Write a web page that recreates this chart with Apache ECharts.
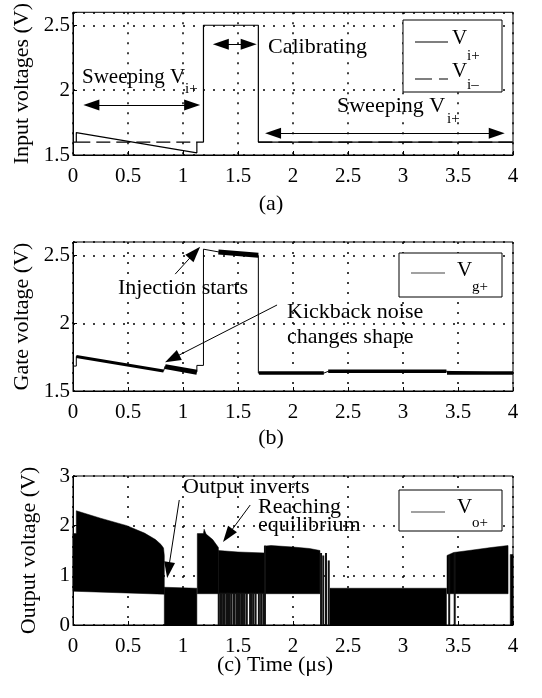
<!DOCTYPE html>
<html>
<head>
<meta charset="utf-8">
<title>Comparator waveforms</title>
<script src="https://cdn.jsdelivr.net/npm/echarts@6/dist/echarts.min.js"></script>
<style>
    html, body { margin: 0; padding: 0; background: #fff; }
    #chart { width: 542px; height: 698px; }
</style>
</head>
<body>
<div id="chart"></div>
<script>
// ---- data (time in us, voltages in V) ----
var timeTicks = [0, 0.5, 1, 1.5, 2, 2.5, 3, 3.5, 4];

// (a) input voltages
var viPlus = [[0, 1.6], [0.03, 1.6], [0.03, 1.673], [1.126, 1.517], [1.126, 1.6], [1.186, 1.6],
    [1.186, 2.5], [1.685, 2.5], [1.685, 1.6], [4, 1.6]];
var viMinus = [[0.03, 1.6], [1.126, 1.6], [1.4, '-'], [1.685, 1.6], [4, 1.6]];

// (b) gate voltage: thin trace + noisy (thick) stretches
var vgTrace = [[0, 1.684], [0.03, 1.684], [0.03, 1.755], [0.823, 1.647], [0.838, 1.684], [1.126, 1.640],
    [1.126, 1.689], [1.186, 1.689], [1.186, 2.547], [1.322, 2.527], [1.685, 2.50], [1.685, 1.632],
    [2.28, 1.632], [2.32, 1.645], [3.395, 1.645], [3.40, 1.632], [4, 1.632]];
var vgNoisy = [[0.03, 1.755], [0.823, 1.647]];
var vgWedge = [[0.838, 1.680], [1.126, 1.638]];
var vgTop = [[1.322, 2.527], [1.685, 2.503]];
var vgLow1 = [[1.69, 1.632], [2.28, 1.632]];
var vgLow2 = [[2.32, 1.645], [3.395, 1.645]];
var vgLow3 = [[3.40, 1.632], [4, 1.632]];

// (c) output voltage: envelopes of the fast oscillation [top, bottom]
var voBlocks = [
    [[[0, 1.84], [0.03, 1.84], [0.03, 2.30], [0.25, 2.15], [0.49, 2.0], [0.65, 1.85], [0.75, 1.72], [0.80, 1.62], [0.823, 1.55], [0.83, 1.40]],
        [[0, 0.68], [0.83, 0.62]]],
    [[[0.83, 0.76], [1.126, 0.74]], [[0.83, 0], [1.126, 0]]],
    [[[1.13, 1.84], [1.186, 1.84], [1.192, 1.93], [1.21, 1.83], [1.27, 1.72], [1.322, 1.56]],
        [[1.13, 0.63], [1.322, 0.63]]],
    [[[1.322, 1.50], [1.5, 1.47], [1.745, 1.45]], [[1.322, 0.63], [1.745, 0.63]]],
    [[[1.75, 1.59], [1.80, 1.60], [2.0, 1.57], [2.15, 1.54], [2.245, 1.50]], [[1.75, 0.63], [2.245, 0.63]]],
    [[[2.336, 0.74], [3.395, 0.74]], [[2.336, 0], [3.395, 0]]],
    [[[3.40, 1.40], [3.46, 1.46], [3.6, 1.50], [3.8, 1.56], [3.955, 1.60]], [[3.40, 0.63], [3.955, 0.63]]],
    [[[3.975, 1.42], [4, 1.42]], [[3.975, 0], [4, 0]]]
];
// isolated transitions [t, from, to]
var voSpikes = [[1.325, 0, 0.65], [1.34, 0, 0.65], [1.35, 0, 0.65], [1.365, 0, 0.65], [1.38, 0, 0.65],
    [1.40, 0, 0.65], [1.41, 0, 0.65], [1.425, 0, 0.65], [1.44, 0, 0.65], [1.46, 0, 0.65], [1.47, 0, 0.65],
    [1.49, 0, 0.65], [1.50, 0, 0.65], [1.515, 0, 0.65], [1.53, 0, 0.65], [1.545, 0, 0.65], [1.56, 0, 0.65],
    [1.58, 0, 0.65], [1.61, 0, 0.65], [1.625, 0, 0.65], [1.64, 0, 0.65], [1.66, 0, 0.65], [1.69, 0, 0.65],
    [1.71, 0, 0.65], [1.73, 0, 0.65],
    [1.745, 0, 1.6], [2.255, 0, 1.45], [2.275, 0, 1.40], [2.30, 0, 1.45], [2.325, 0, 1.30],
    [3.42, 0, 1.40], [3.47, 0, 1.45]];

// annotation arrows [x1, y1, x2, y2] (head centres)
var arrowsA = [[0.167, 1.886, 1.083, 1.886], [1.344, 2.354, 1.597, 2.354], [1.819, 1.668, 3.852, 1.668]];
var arrowsB = [[0.929, 2.363, 1.107, 2.522], [1.855, 2.135, 0.902, 1.739]];
var arrowsC = [[0.966, 2.517, 0.867, 1.105], [1.611, 2.416, 1.407, 1.802]];

var FONT = 'Liberation Serif';

var chart = echarts.init(document.getElementById('chart'));

function timeAxis(i) {
    return {
        type: 'value', gridIndex: i, min: timeTicks[0], max: timeTicks[timeTicks.length - 1], interval: 0.5,
        axisLine: {show: true, onZero: false, lineStyle: {color: '#000', width: 1}},
        axisTick: {show: true, inside: true, length: 4, lineStyle: {color: '#000'}},
        axisLabel: {color: '#000', fontFamily: FONT, fontSize: 21, margin: 11},
        splitLine: {show: true, lineStyle: {color: '#000', width: 1.5, type: [2, 8]}}
    };
}

function voltAxis(i, name, min, max, interval) {
    return {
        type: 'value', gridIndex: i, min: min, max: max, interval: interval,
        name: name, nameLocation: 'middle', nameGap: 33,
        nameTextStyle: {color: '#000', fontFamily: FONT, fontSize: 22},
        axisLine: {show: true, onZero: false, lineStyle: {color: '#000', width: 1}},
        axisTick: {show: true, inside: true, length: 4, lineStyle: {color: '#000'}},
        axisLabel: {
            color: '#000', fontFamily: FONT, fontSize: 21, margin: 3,
            formatter: function (v) {
                var k = v / interval;
                return Math.abs(k - Math.round(k)) < 1e-6 ? String(v) : '';
            }
        },
        splitLine: {show: true, lineStyle: {color: '#000', width: 1.5, type: [2, 8]}}
    };
}

function arrowLines(list, single) {
    return {
        silent: true,
        symbol: single ? ['none', 'triangle'] : ['triangle', 'triangle'],
        symbolSize: [11, 16],
        label: {show: false},
        emphasis: {disabled: true},
        itemStyle: {color: '#000'},
        lineStyle: {color: '#000', width: 1, type: 'solid'},
        data: list.map(function (a) {
            return [{coord: [a[0], a[1]]}, {coord: [a[2], a[3]]}];
        })
    };
}

function trace(i, data, width, extra) {
    var s = {
        type: 'line', xAxisIndex: i, yAxisIndex: i, data: data, symbol: 'none', silent: true,
        lineStyle: {color: '#000', width: width}
    };
    for (var k in extra) s[k] = extra[k];
    return s;
}

function text(str, x, y, size, align) {
    return {
        type: 'text', x: x, y: y, z: 100,
        style: {text: str, fill: '#000', fontFamily: FONT, fontSize: size, align: align || 'left', verticalAlign: 'middle'}
    };
}

function line(x1, y1, x2, y2, color, dash) {
    return {
        type: 'line', z: 100, shape: {x1: x1, y1: y1, x2: x2, y2: y2},
        style: {stroke: color, lineWidth: 1.2, lineDash: dash || null}
    };
}

function box(x, y, w, h) {
    return {type: 'rect', z: 99, shape: {x: x, y: y, width: w, height: h}, style: {fill: '#fff', stroke: '#000', lineWidth: 1}};
}

var option = {
    animation: false,
    backgroundColor: '#fff',
    grid: [
        {left: 73, right: 29, top: 7, height: 148, show: true, borderColor: '#000', borderWidth: 1, containLabel: false},
        {left: 73, right: 29, top: 242, height: 149, show: true, borderColor: '#000', borderWidth: 1, containLabel: false},
        {left: 73, right: 29, top: 476, height: 149, show: true, borderColor: '#000', borderWidth: 1, containLabel: false}
    ],
    xAxis: [timeAxis(0), timeAxis(1), timeAxis(2)],
    yAxis: [
        voltAxis(0, 'Input voltages (V)', 1.5, 2.6, 0.5),
        voltAxis(1, 'Gate voltage (V)', 1.5, 2.6, 0.5),
        voltAxis(2, 'Output voltage (V)', 0, 3, 1)
    ],
    series: [
        trace(0, viPlus, 1.2, {name: 'Vi+', markLine: arrowLines(arrowsA, false)}),
        trace(0, viMinus, 1.2, {name: 'Vi-', lineStyle: {color: '#000', width: 1.2, type: [14, 6]}}),

        trace(1, vgTrace, 1, {name: 'Vg+', markLine: arrowLines(arrowsB, true)}),
        trace(1, vgNoisy, 3),
        trace(1, vgWedge, 5),
        trace(1, vgTop, 5),
        trace(1, vgLow1, 3.5),
        trace(1, vgLow2, 3.5),
        trace(1, vgLow3, 3.5),

        {
            name: 'Vo+', type: 'custom', xAxisIndex: 2, yAxisIndex: 2, silent: true,
            data: voBlocks.map(function (b, i) { return [i]; }),
            renderItem: function (params, api) {
                var b = voBlocks[params.dataIndex];
                var pts = b[0].map(function (p) { return api.coord(p); });
                b[1].slice().reverse().forEach(function (p) { pts.push(api.coord(p)); });
                return {type: 'polygon', shape: {points: pts}, style: {fill: '#000', stroke: '#000', lineWidth: 0.5}};
            }
        },
        {
            type: 'custom', xAxisIndex: 2, yAxisIndex: 2, silent: true,
            data: voSpikes, encode: {x: 0, y: [1, 2]},
            renderItem: function (params, api) {
                var p1 = api.coord([api.value(0), api.value(1)]);
                var p2 = api.coord([api.value(0), api.value(2)]);
                return {type: 'line', shape: {x1: p1[0], y1: p1[1], x2: p2[0], y2: p2[1]},
                    style: {stroke: '#111', lineWidth: 2}};
            }
        },
        trace(2, [], 1, {markLine: arrowLines(arrowsC, true)})
    ],
    graphic: [
        // panel (a) notes
        text('Sweeping V', 82, 77, 21), text('i+', 185, 89, 15),
        text('Calibrating', 268, 47, 22),
        text('Sweeping V', 337, 106, 22), text('i+', 447, 119, 15),
        box(403, 20, 99, 72),
        line(415, 42, 448, 42, '#000'), text('V', 452, 38, 21), text('i+', 467, 56, 15),
        line(415, 79, 448, 79, '#000', [17, 7]), text('V', 452, 71, 21), text('i\u2013', 467, 85, 15),
        text('(a)', 271, 204, 22, 'center'),

        // panel (b) notes
        text('Injection starts', 118, 288, 22),
        text('Kickback noise', 287, 312, 22),
        text('changes shape', 287, 337, 22),
        box(399, 253, 103, 44),
        line(411, 273, 445, 273, '#444'), text('V', 457, 270, 21), text('g+', 472, 287, 15),
        text('(b)', 271, 438, 22, 'center'),

        // panel (c) notes
        text('Output inverts', 183, 487, 22),
        text('Reaching', 258, 507, 22),
        text('equilibrium', 258, 525, 22),
        box(399, 490, 103, 41),
        line(411, 512, 445, 512, '#444'), text('V', 457, 507, 21), text('o+', 472, 523, 15),
        text('(c) Time (\u03bcs)', 275, 665, 22, 'center')
    ]
};

chart.setOption(option);
</script>
</body>
</html>
